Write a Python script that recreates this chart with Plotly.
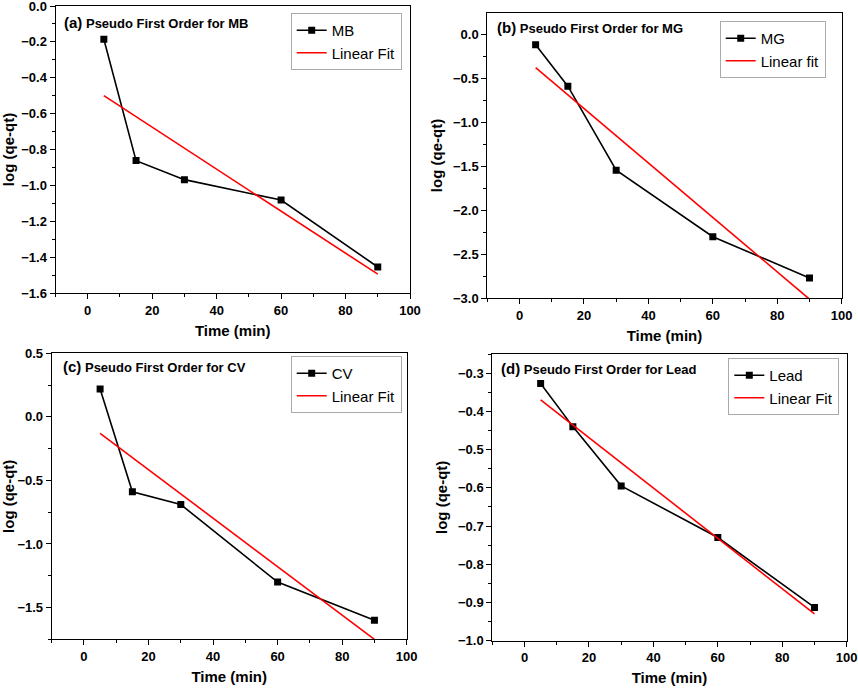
import plotly.graph_objects as go

# contact time (min)
time_min = [5, 15, 30, 60, 90]

# log(qe - qt)
log_mb = [-0.185, -0.862, -0.968, -1.082, -1.455]
log_mg = [-0.12, -0.59, -1.545, -2.30, -2.77]
log_cv = [0.22, -0.59, -0.69, -1.30, -1.60]
log_lead = [-0.327, -0.44, -0.595, -0.73, -0.913]

# linear fit end points (same x for all)
fit_x = [5, 90]
fit_mb = [-0.50, -1.495]
fit_mg = [-0.38, -3.01]
fit_cv = [-0.13, -1.75]
fit_lead = [-0.37, -0.93]

W, H = 858, 688
FONT = "Arial, Liberation Sans"

panels = [
    # letter, name, data, fit, fit label, plot box (px: left, right, top, bottom), y range, dtick, legend corner, title pos
    ("a", "MB", log_mb, fit_mb, "Linear Fit", (55.5, 410, 6, 293), [-1.6, 0.0], 0.2, (401.7, 13), (62, 22)),
    ("b", "MG", log_mg, fit_mg, "Linear fit", (487.3, 841.7, 12.7, 298.3), [-3.0, 0.245], 0.5, (825.7, 21), (495, 28)),
    ("c", "CV", log_cv, fit_cv, "Linear Fit", (51.7, 406.7, 353.3, 639.3), [-1.75, 0.5], 0.5, (401.7, 356), (61, 367)),
    ("d", "Lead", log_lead, fit_lead, "Linear Fit", (492.3, 846.7, 354, 640.7), [-1.0, -0.25], 0.1, (839.3, 358), (499, 369)),
]

fig = go.Figure()
layout = {}
annotations = []

for i, (letter, name, ys, fit, fit_name, box, yr, dy, leg, ttl) in enumerate(panels):
    n = "" if i == 0 else str(i + 1)
    leg_id = "legend" + n
    xa, ya = "x" + n, "y" + n
    fig.add_scatter(
        x=time_min, y=ys, mode="lines+markers", name=name,
        line=dict(color="black", width=1.6),
        marker=dict(symbol="square", size=7, color="black"),
        xaxis=xa, yaxis=ya, legend=leg_id,
    )
    fig.add_scatter(
        x=fit_x, y=fit, mode="lines", name=fit_name,
        line=dict(color="#ff0000", width=1.6),
        xaxis=xa, yaxis=ya, legend=leg_id,
    )
    left, right, top, bottom = box
    common = dict(
        showline=True, linecolor="black", linewidth=1, mirror=True,
        ticks="outside", ticklen=5, tickwidth=1, tickcolor="black",
        showgrid=False, zeroline=False, automargin=False,
        ticklabeloverflow="allow",
        tickfont=dict(family=FONT, size=13, color="black", weight="bold"),
        title_font=dict(family=FONT, size=15, color="black", weight="bold"),
    )
    layout["xaxis" + n] = dict(
        common, domain=[left / W, right / W], anchor=ya, range=[-10, 100],
        dtick=20, tick0=0, title=dict(text="Time (min)", standoff=8),
        minor=dict(ticks="outside", ticklen=3, dtick=10, tick0=0, tickcolor="black"),
    )
    layout["yaxis" + n] = dict(
        common, domain=[1 - bottom / H, 1 - top / H], anchor=xa, range=yr,
        dtick=dy, tick0=0, tickformat=".1f", title=dict(text="log (qe-qt)", standoff=6),
        minor=dict(ticks="outside", ticklen=3, dtick=dy / 2, tick0=0, tickcolor="black"),
    )
    layout[leg_id] = dict(
        x=leg[0] / W, y=1 - leg[1] / H, xanchor="right", yanchor="top",
        bordercolor="#aaaaaa", borderwidth=1, bgcolor="white",
        font=dict(family=FONT, size=15, color="black"),
        itemwidth=30, tracegroupgap=0,
    )
    annotations.append(dict(
        xref="paper", yref="paper", x=ttl[0] / W, y=1 - ttl[1] / H,
        xanchor="left", yanchor="middle", showarrow=False,
        text=f"<b><span style='font-size:15px'>({letter})</span> Pseudo First Order for {name}</b>",
        font=dict(family=FONT, size=13, color="black"),
    ))

fig.update_layout(
    width=W, height=H, margin=dict(l=0, r=0, t=0, b=0),
    plot_bgcolor="white", paper_bgcolor="white",
    annotations=annotations, **layout,
)

# drop the default page margin so the figure sits at the window's corner
fig.write_html(
    "out.html",
    config={"displayModeBar": False},
    post_script="document.body.style.margin='0';",
)
